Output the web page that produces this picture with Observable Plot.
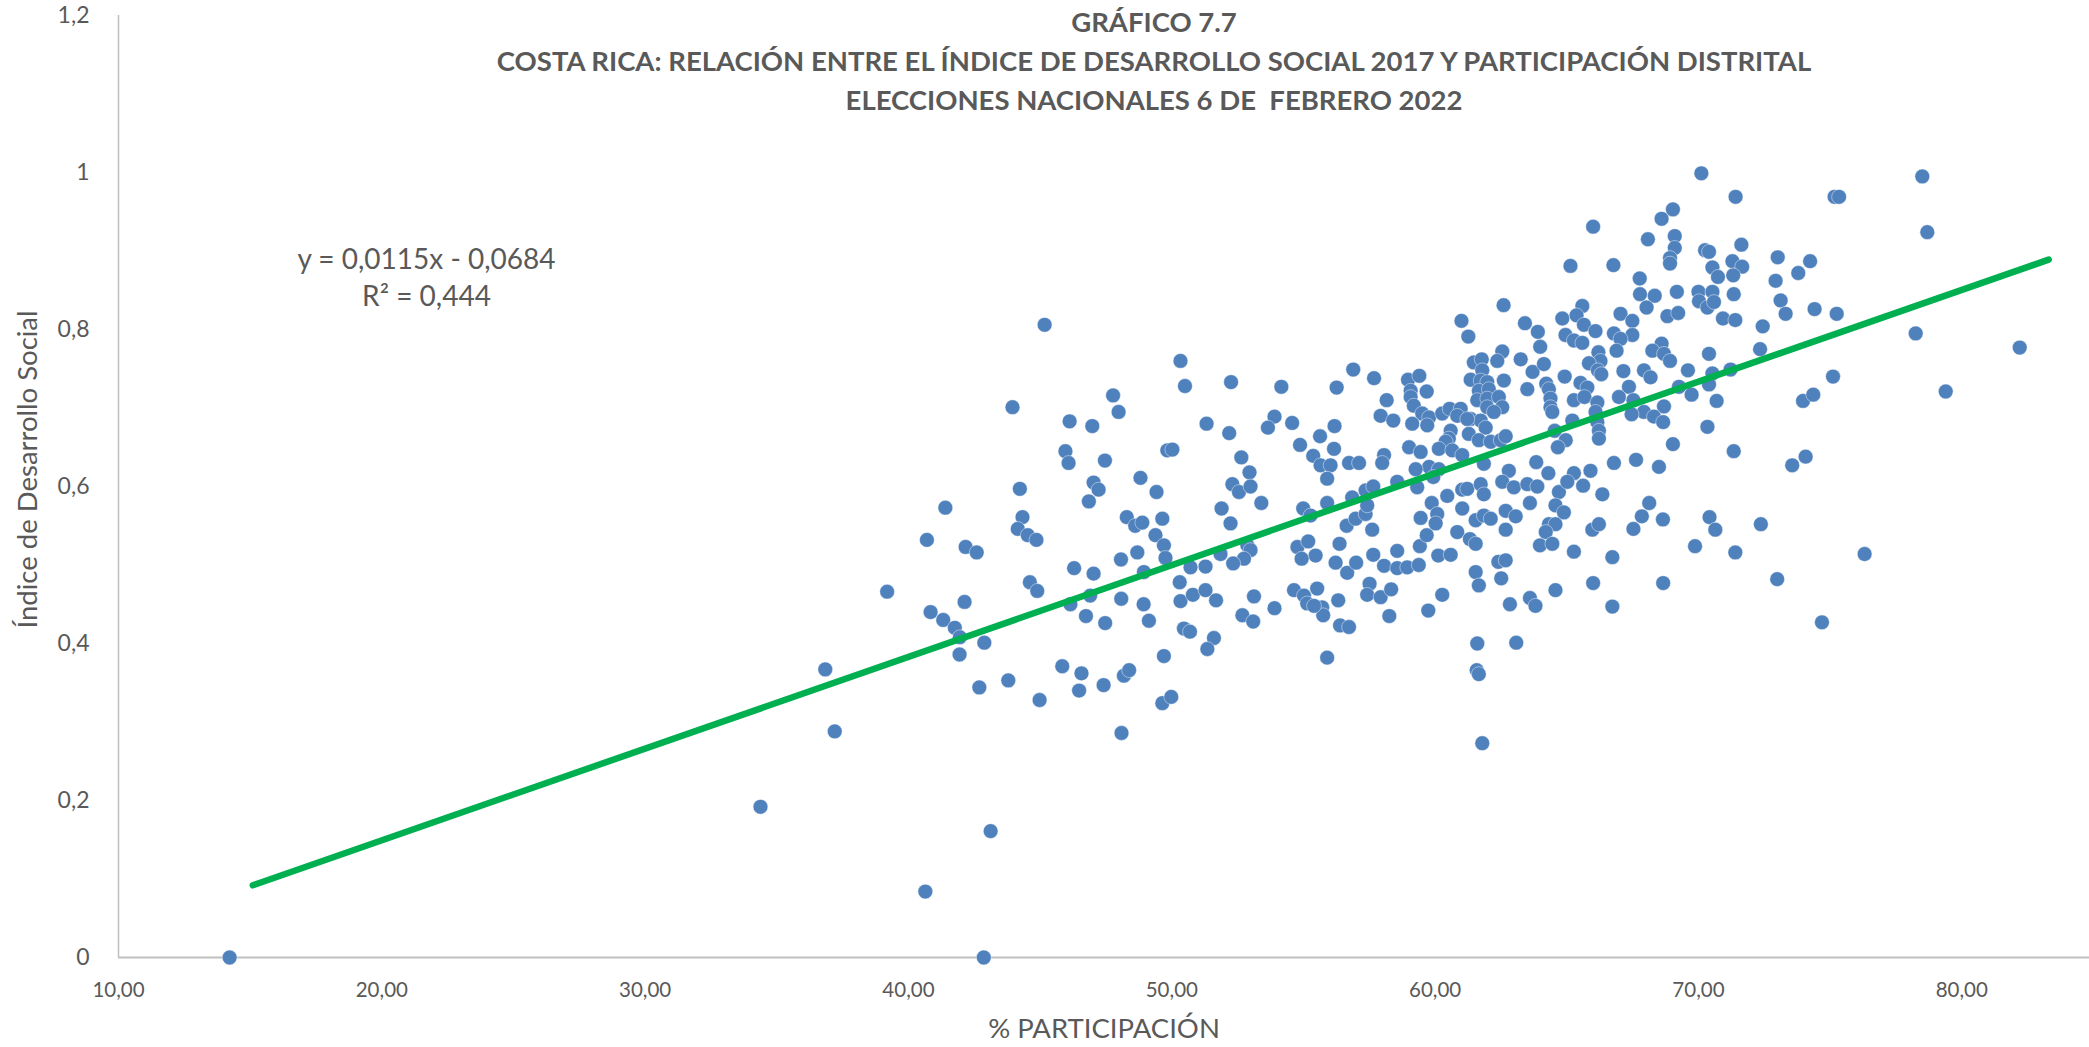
<!DOCTYPE html>
<html>
<head>
<meta charset="utf-8">
<script src="https://cdn.jsdelivr.net/npm/d3@7"></script>
<script src="https://cdn.jsdelivr.net/npm/@observablehq/plot@0.6"></script>
<style>
  html, body { margin: 0; padding: 0; background: #ffffff; }
  #chart { width: 2089px; height: 1047px; overflow: hidden; }
</style>
</head>
<body>
<div id="chart"></div>
<script>
// ---- Data ----
const titleLines = [
  "GRÁFICO 7.7",
  "COSTA RICA: RELACIÓN ENTRE EL ÍNDICE DE DESARROLLO SOCIAL 2017 Y PARTICIPACIÓN DISTRITAL",
  "ELECCIONES NACIONALES 6 DE  FEBRERO 2022"
];
const xLabel = "% PARTICIPACIÓN";
const yLabel = "Índice de Desarrollo Social";
const equationLines = ["y = 0,0115x - 0,0684", "R² = 0,444"];
const xTicks = [10, 20, 30, 40, 50, 60, 70, 80];
const yTicks = [0, 0.2, 0.4, 0.6, 0.8, 1, 1.2];

// Trend line end points (x = % participación, y = IDS)
const trendX = [15.1, 83.3];
const trendY = [0.092, 0.889];

// District points: % participación
const participacion = [
  14.22, 42.86, 34.38, 36.84, 37.20, 40.64, 43.12, 39.19,
  45.17, 43.95, 47.77, 47.98, 46.12, 46.98, 45.96, 46.08, 47.46, 48.81, 44.23, 47.03,
  47.22, 46.85, 41.40, 44.33, 44.15, 44.53, 44.86, 40.70, 42.17, 42.59, 48.29, 48.61,
  48.88, 48.69, 48.94, 48.07, 46.29, 47.03, 44.61, 44.89, 42.13, 46.90, 48.08, 48.93,
  46.15, 40.84, 41.32, 41.76, 41.95, 41.94, 42.88, 46.74, 47.47, 49.13, 42.69, 43.79,
  44.98, 45.84, 46.57, 46.48, 47.41, 48.18, 48.38, 48.09,
  // zoom 5 region
  66.00, 65.14, 62.60, 61.00, 61.26, 63.41, 63.90, 63.99, 64.83, 65.59, 65.37, 65.65,
  66.09, 64.95, 65.27, 65.59, 66.20, 66.28, 65.84, 66.18, 66.31, 64.92, 65.52, 65.78,
  65.27, 65.67, 66.16, 66.09, 65.21, 66.16, 66.22, 66.22, 64.54, 64.96, 64.66, 63.25,
  63.70, 64.13, 63.50, 64.22, 64.32, 64.38, 64.38, 64.45, 62.55, 62.36, 62.61, 61.47,
  61.77, 61.79, 61.35, 61.73, 61.98, 61.66, 62.04, 61.60, 61.98, 62.42, 62.55, 61.98,
  62.23, 61.35, 61.73, 61.92, 61.28, 61.66, 62.11, 62.49, 62.68, 61.85, 62.80, 63.84,
  64.30, 65.27, 65.90, 58.97, 59.40, 59.68, 59.07, 59.07, 59.19, 59.51, 59.77, 59.13,
  59.70, 60.27, 60.55, 60.97, 60.84, 61.22, 60.59, 60.52, 60.40, 60.14, 60.65, 61.03,
  59.01, 59.45, 59.77, 59.26, 58.16, 57.93, 58.41, 57.68, 56.89, 56.26, 54.16, 52.25,
  50.50, 50.33, 51.32, 52.18, 53.90, 53.65, 54.57, 56.18, 55.63, 54.87, 56.16, 55.37,
  52.64, 49.83, 50.02, 52.95, 55.65, 56.03, 56.73, 57.11, 58.06, 57.99, 60.14,
  // zoom 6 region
  49.42, 49.64, 49.38, 49.70, 49.76, 50.30, 50.33, 50.80, 51.28, 51.68, 51.28, 50.71,
  50.46, 50.69, 51.60, 51.35, 49.70, 49.64, 49.98, 52.30, 52.55, 52.99, 53.40, 51.89,
  52.23, 52.87, 52.99, 52.74, 52.33, 51.85, 53.12, 52.68, 53.09, 53.90, 54.99, 55.27,
  55.90, 55.90, 54.77, 55.18, 55.46, 54.93, 54.64, 55.02, 55.14, 55.52, 55.71, 55.75,
  55.40, 56.32, 56.39, 56.73, 55.90, 56.37, 56.22, 56.66, 57.00, 56.64, 56.98, 57.36,
  56.85, 57.42, 57.36, 57.65, 57.61, 57.65, 58.56, 58.56, 58.06, 58.56, 58.94, 59.38,
  57.51, 57.42, 57.93, 58.33, 58.26, 59.42, 59.68, 59.45, 59.32, 59.87, 60.08, 60.02,
  60.12, 60.59, 60.27, 59.74, 60.46, 61.03, 61.03, 61.22, 60.84, 61.32, 61.54, 61.54,
  61.85, 62.11, 61.73, 61.85, 61.54, 61.66, 61.60, 61.58, 61.66, 61.79, 62.40, 62.68,
  62.51, 62.84, 63.08, 62.68, 63.06, 62.68, 62.55, 62.99, 63.60, 63.50, 63.88, 64.70,
  64.57, 64.89, 64.32, 64.57, 64.20, 63.98, 64.45, 63.60, 63.81, 64.57, 65.27, 66.00,
  65.97, 66.22, 66.35, 65.62, 65.02, 59.93,
  // zoom 7 region
  70.11, 71.41, 78.50, 75.17, 75.34, 78.69, 69.03, 68.60, 68.08, 69.10, 69.10, 68.92,
  68.92, 66.77, 70.25, 70.40, 71.63, 70.53, 71.29, 71.66, 70.74, 71.32, 73.01, 74.24,
  73.79, 72.93, 67.77, 67.78, 68.34, 69.18, 68.03, 70.00, 70.53, 70.02, 70.34, 70.59,
  71.34, 67.04, 67.49, 68.82, 69.23, 70.93, 71.40, 73.12, 73.31, 74.41, 75.25, 72.44,
  72.34, 78.25, 82.20, 66.79, 67.49, 67.04, 66.89, 68.60, 68.25, 68.69, 68.92, 70.40,
  67.15, 67.93, 68.18, 69.60, 70.53, 71.22, 67.36, 66.98, 69.26, 70.40, 69.74, 70.69,
  67.53, 67.93, 68.69, 67.46, 68.31, 68.66, 70.34, 69.03, 71.34, 66.79, 67.63, 68.50,
  73.56, 74.07, 75.11, 73.97, 74.36, 79.39,
  // zoom 8 region
  68.13, 67.85, 67.53, 68.65, 70.42, 70.64, 72.37, 69.87, 71.40, 76.31, 66.73, 68.66,
  72.99, 66.73, 74.69
];

// District points: Índice de Desarrollo Social (same order)
const ids = [
  0.000, 0.000, 0.192, 0.367, 0.288, 0.084, 0.161, 0.466,
  0.806, 0.701, 0.716, 0.695, 0.683, 0.677, 0.645, 0.630, 0.633, 0.611, 0.597, 0.605,
  0.596, 0.581, 0.573, 0.561, 0.546, 0.538, 0.532, 0.532, 0.523, 0.516, 0.561, 0.550,
  0.554, 0.516, 0.491, 0.507, 0.496, 0.489, 0.478, 0.467, 0.453, 0.461, 0.457, 0.450,
  0.450, 0.440, 0.430, 0.420, 0.408, 0.386, 0.401, 0.435, 0.426, 0.429, 0.344, 0.353,
  0.328, 0.371, 0.362, 0.340, 0.347, 0.359, 0.366, 0.286,
  // zoom 5 region
  0.931, 0.881, 0.831, 0.811, 0.791, 0.808, 0.797, 0.778, 0.814, 0.830, 0.818, 0.806,
  0.798, 0.793, 0.786, 0.783, 0.771, 0.760, 0.757, 0.748, 0.743, 0.740, 0.732, 0.726,
  0.710, 0.714, 0.707, 0.695, 0.684, 0.682, 0.671, 0.661, 0.671, 0.659, 0.650, 0.762,
  0.746, 0.756, 0.724, 0.731, 0.724, 0.712, 0.701, 0.695, 0.772, 0.760, 0.735, 0.758,
  0.762, 0.748, 0.736, 0.735, 0.733, 0.722, 0.724, 0.710, 0.712, 0.714, 0.701, 0.701,
  0.695, 0.686, 0.684, 0.675, 0.667, 0.659, 0.657, 0.659, 0.664, 0.629, 0.620, 0.631,
  0.617, 0.617, 0.620, 0.736, 0.741, 0.721, 0.722, 0.714, 0.703, 0.693, 0.688, 0.680,
  0.678, 0.693, 0.699, 0.699, 0.690, 0.686, 0.671, 0.661, 0.657, 0.648, 0.646, 0.640,
  0.650, 0.644, 0.625, 0.622, 0.710, 0.690, 0.684, 0.738, 0.749, 0.726, 0.727, 0.733,
  0.728, 0.760, 0.680, 0.668, 0.689, 0.675, 0.681, 0.677, 0.664, 0.653, 0.648, 0.639,
  0.637, 0.646, 0.647, 0.618, 0.627, 0.627, 0.630, 0.630, 0.640, 0.630, 0.622,
  // zoom 6 region
  0.593, 0.559, 0.538, 0.525, 0.509, 0.478, 0.454, 0.462, 0.468, 0.455, 0.498, 0.497,
  0.419, 0.415, 0.407, 0.393, 0.384, 0.324, 0.332, 0.603, 0.593, 0.600, 0.579, 0.572,
  0.553, 0.525, 0.519, 0.508, 0.502, 0.514, 0.460, 0.436, 0.428, 0.445, 0.572, 0.563,
  0.610, 0.579, 0.523, 0.530, 0.512, 0.508, 0.468, 0.461, 0.451, 0.470, 0.446, 0.436,
  0.448, 0.455, 0.423, 0.421, 0.382, 0.527, 0.503, 0.490, 0.503, 0.550, 0.559, 0.565,
  0.586, 0.576, 0.595, 0.600, 0.545, 0.513, 0.606, 0.518, 0.499, 0.496, 0.497, 0.500,
  0.476, 0.462, 0.459, 0.469, 0.435, 0.524, 0.538, 0.560, 0.599, 0.579, 0.565, 0.553,
  0.512, 0.513, 0.462, 0.442, 0.588, 0.572, 0.596, 0.597, 0.542, 0.533, 0.527, 0.557,
  0.563, 0.559, 0.603, 0.590, 0.491, 0.474, 0.400, 0.366, 0.361, 0.273, 0.504, 0.506,
  0.483, 0.450, 0.401, 0.569, 0.562, 0.545, 0.606, 0.599, 0.579, 0.603, 0.600, 0.593,
  0.576, 0.567, 0.552, 0.552, 0.542, 0.525, 0.527, 0.458, 0.448, 0.468, 0.517, 0.477,
  0.545, 0.552, 0.590, 0.601, 0.606, 0.612,
  // zoom 7 region
  0.999, 0.969, 0.995, 0.969, 0.969, 0.924, 0.953, 0.941, 0.915, 0.919, 0.904, 0.891,
  0.884, 0.882, 0.901, 0.899, 0.908, 0.879, 0.887, 0.880, 0.867, 0.869, 0.892, 0.887,
  0.872, 0.862, 0.865, 0.845, 0.843, 0.848, 0.828, 0.848, 0.848, 0.836, 0.828, 0.835,
  0.845, 0.820, 0.811, 0.817, 0.821, 0.814, 0.812, 0.837, 0.820, 0.826, 0.820, 0.804,
  0.775, 0.795, 0.777, 0.795, 0.793, 0.788, 0.773, 0.782, 0.773, 0.769, 0.760, 0.769,
  0.747, 0.748, 0.739, 0.748, 0.744, 0.749, 0.727, 0.714, 0.727, 0.730, 0.717, 0.709,
  0.710, 0.695, 0.702, 0.692, 0.689, 0.682, 0.676, 0.654, 0.645, 0.630, 0.634, 0.625,
  0.627, 0.638, 0.740, 0.709, 0.717, 0.721,
  // zoom 8 region
  0.579, 0.562, 0.546, 0.558, 0.561, 0.545, 0.552, 0.524, 0.516, 0.514, 0.510, 0.477,
  0.482, 0.447, 0.427
];

// ---- Build tables for the library ----
const points = participacion.map((x, i) => ({x, y: ids[i]}));
const trend = trendX.map((x, i) => ({x, y: trendY[i]}));

const FONT = "Lato, 'Open Sans', sans-serif";
const TXT = "#595959";
const fmtX = d => d.toFixed(2).replace(".", ",");
const fmtY = d => String(d).replace(".", ",");

const chart = Plot.plot({
  width: 2089,
  height: 1047,
  marginLeft: 118,
  marginRight: 0,
  marginTop: 15,
  marginBottom: 90,
  style: {fontFamily: FONT, color: TXT, background: "#ffffff", overflow: "visible"},
  x: {domain: [10, 84.85]},
  y: {domain: [0, 1.2]},
  marks: [
    Plot.axisX({ticks: xTicks, tickFormat: fmtX, tickSize: 0, tickPadding: 25, fontSize: 20.5, label: null, fill: TXT}),
    Plot.axisY({ticks: yTicks, tickFormat: fmtY, tickSize: 0, tickPadding: 29, fontSize: 23, label: null, fill: TXT}),
    Plot.ruleX([10], {stroke: "#bfbfbf", strokeWidth: 1.5}),
    Plot.ruleY([0], {stroke: "#bfbfbf", strokeWidth: 2}),
    Plot.dot(points, {x: "x", y: "y", r: 7.4, fill: "#4f81bd", stroke: "#ffffff", strokeOpacity: 0.55, strokeWidth: 0.8}),
    Plot.line(trend, {x: "x", y: "y", stroke: "#00b050", strokeWidth: 6.5, strokeLinecap: "round"}),
    ...titleLines.map((t, i) => Plot.text([t], {
      frameAnchor: "top", dx: 50, dy: 8 + i * 39, textAnchor: "middle", lineAnchor: "middle",
      fontSize: 27.5, fontWeight: "bold", fill: TXT
    })),
    Plot.text([equationLines[0]], {frameAnchor: "top-left", dx: 308, dy: 245, textAnchor: "middle", lineAnchor: "middle", fontSize: 28, fill: TXT}),
    Plot.text([equationLines[1]], {frameAnchor: "top-left", dx: 308, dy: 282, textAnchor: "middle", lineAnchor: "middle", fontSize: 28, fill: TXT}),
    Plot.text([xLabel], {frameAnchor: "bottom", dy: 72, textAnchor: "middle", lineAnchor: "middle", fontSize: 27.5, fill: TXT}),
    Plot.text([yLabel], {frameAnchor: "left", rotate: -90, dx: -90, dy: -17, textAnchor: "middle", lineAnchor: "middle", fontSize: 27.5, fill: TXT})
  ]
});
document.getElementById("chart").appendChild(chart);
</script>
</body>
</html>
